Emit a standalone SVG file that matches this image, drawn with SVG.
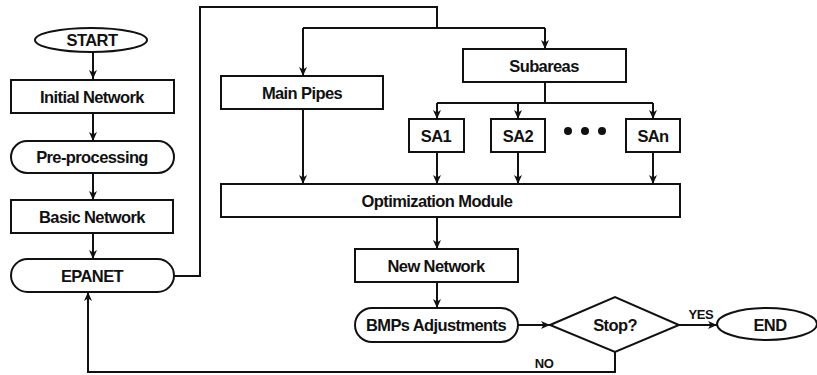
<svg xmlns="http://www.w3.org/2000/svg" width="817" height="375" viewBox="0 0 817 375">
<defs>
<marker id="ah" markerWidth="10" markerHeight="8" refX="9" refY="4" orient="auto" markerUnits="userSpaceOnUse">
<path d="M0,0 L9,4 L0,8 L2.5,4 Z" fill="#111"/>
</marker>
<style>
.box{fill:#fff;stroke:#111;stroke-width:2}
.t{font-family:"Liberation Sans",Arial,sans-serif;font-weight:bold;font-size:16.5px;letter-spacing:-0.6px;fill:#111;text-anchor:middle;dominant-baseline:central}
.s{font-size:13px;letter-spacing:-0.4px}
.c{fill:none;stroke:#111;stroke-width:2}
.a{marker-end:url(#ah)}
</style>
</defs>
<rect width="817" height="375" fill="#fff"/>
<g id="connectors">
<path class="c a" d="M93,52 V79"/>
<path class="c a" d="M93,113 V141"/>
<path class="c a" d="M93,173 V200"/>
<path class="c a" d="M93,233 V259"/>
<path class="c" d="M174,276 H200 V7 H437 V28"/>
<path class="c" d="M303,28 H545"/>
<path class="c a" d="M303,28 V76"/>
<path class="c a" d="M545,28 V49"/>
<path class="c" d="M545,82 V103"/>
<path class="c" d="M437,103 H653"/>
<path class="c a" d="M437,103 V119"/>
<path class="c a" d="M518,103 V119"/>
<path class="c a" d="M653,103 V119"/>
<path class="c a" d="M303,109 V184"/>
<path class="c a" d="M437,152 V184"/>
<path class="c a" d="M518,152 V184"/>
<path class="c a" d="M653,152 V184"/>
<path class="c a" d="M437,217 V249"/>
<path class="c a" d="M437,282 V308"/>
<path class="c a" d="M518,325 H550"/>
<path class="c a" d="M679,325 H717"/>
<path class="c a" d="M615,352 V372 H88 V292"/>
<text class="t s" x="701" y="314">YES</text>
<text class="t s" x="544" y="363">NO</text>
</g>
<g id="start"><ellipse class="box" cx="91" cy="40" rx="56" ry="12"/><text class="t" x="92" y="40">START</text></g>
<g id="initial"><rect class="box" x="11" y="80" width="163" height="33"/><text class="t" x="92" y="97">Initial Network</text></g>
<g id="preproc"><rect class="box" x="11" y="141" width="163" height="32" rx="16"/><text class="t" x="92" y="157">Pre-processing</text></g>
<g id="basic"><rect class="box" x="11" y="200" width="162" height="33"/><text class="t" x="92" y="217">Basic Network</text></g>
<g id="epanet"><rect class="box" x="11" y="259" width="163" height="33" rx="16.5"/><text class="t" x="92" y="276">EPANET</text></g>
<g id="mainpipes"><rect class="box" x="221" y="76" width="162" height="33"/><text class="t" x="302" y="93">Main Pipes</text></g>
<g id="subareas"><rect class="box" x="463" y="49" width="163" height="33"/><text class="t" x="544" y="66">Subareas</text></g>
<g id="sa1"><rect class="box" x="409" y="119" width="55" height="33"/><text class="t" x="436" y="136">SA1</text></g>
<g id="sa2"><rect class="box" x="491" y="119" width="54" height="33"/><text class="t" x="518" y="136">SA2</text></g>
<g id="dots"><circle cx="568" cy="131" r="4" fill="#111"/><circle cx="585" cy="131" r="4" fill="#111"/><circle cx="602" cy="131" r="4" fill="#111"/></g>
<g id="san"><rect class="box" x="626" y="119" width="54" height="33"/><text class="t" x="653" y="136">SAn</text></g>
<g id="optim"><rect class="box" x="221" y="184" width="459" height="33"/><text class="t" x="437" y="201">Optimization Module</text></g>
<g id="newnet"><rect class="box" x="355" y="249" width="163" height="33"/><text class="t" x="436" y="266">New Network</text></g>
<g id="bmps"><rect class="box" x="355" y="308" width="163" height="34" rx="17"/><text class="t" x="436" y="325">BMPs Adjustments</text></g>
<g id="stop"><polygon class="box" points="550,325 615,297 679,325 615,352"/><text class="t" x="615" y="325">Stop?</text></g>
<g id="end"><ellipse class="box" cx="767" cy="324" rx="50" ry="16"/><text class="t" x="770" y="325">END</text></g>
</svg>
